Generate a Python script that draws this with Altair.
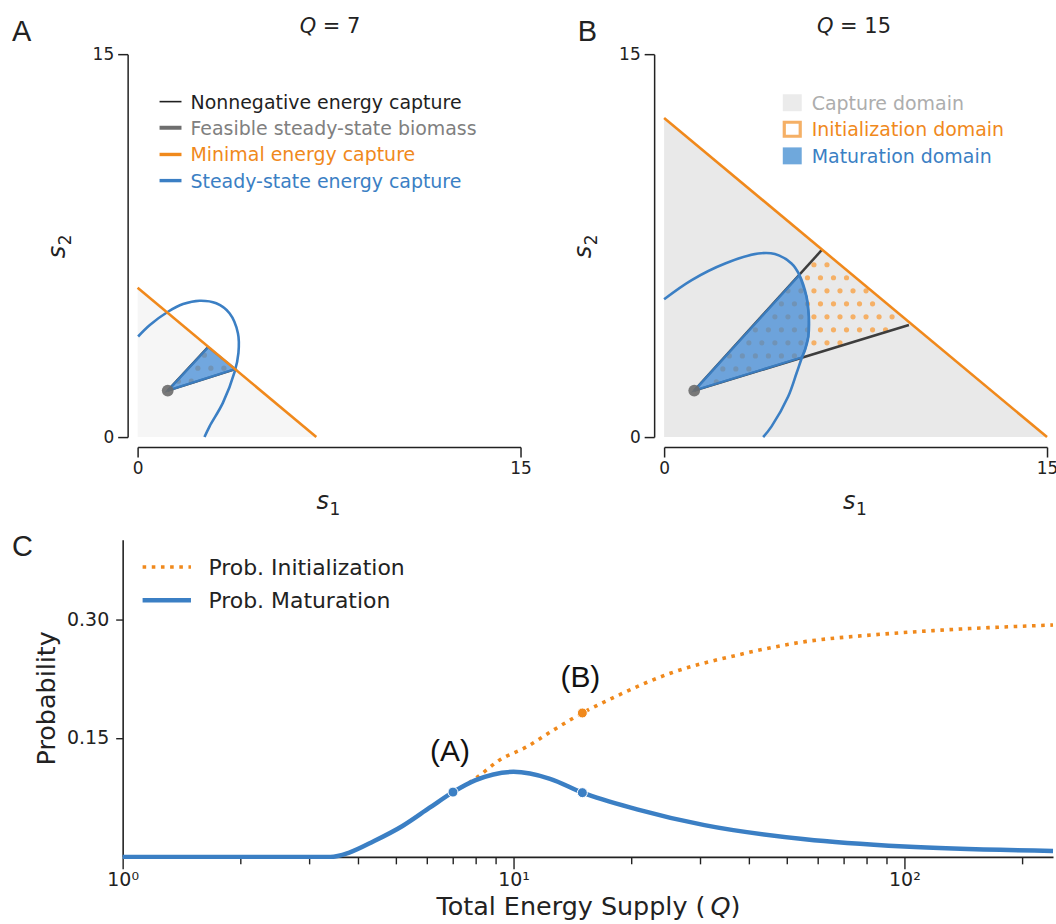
import numpy as np
import pandas as pd
import altair as alt

# ------------------------------------------------------------------
# Values
# ------------------------------------------------------------------
# Panels A and B: state space (s1, s2), both axes 0..15
S_DOMAIN = [0, 15]
S_TICKS = [0, 15]
BIOMASS_POINT = [1.18, 1.82]            # feasible steady-state biomass point

# Panel A  (Q = 7)
A_MINIMAL_S1 = [0.0, 7.0]               # minimal energy capture line
A_MINIMAL_S2 = [5.85, 0.0]
A_STEADY_S1 = [0.02, 0.48, 1.19, 1.78, 2.43, 3.08, 3.60, 3.93, 3.95, 3.80, 3.34, 2.82, 2.62]
A_STEADY_S2 = [3.94, 4.39, 4.91, 5.21, 5.34, 5.24, 4.85, 4.07, 3.30, 2.55, 1.34, 0.42, 0.00]
A_RAY_UPPER = [2.76, 3.52]              # nonnegative-capture rays end on the minimal line
A_RAY_LOWER = [3.83, 2.66]

# Panel B  (Q = 15)
B_MINIMAL_S1 = [0.0, 15.0]
B_MINIMAL_S2 = [12.5, 0.0]
B_STEADY_S1 = [0.0, 1.08, 2.39, 3.69, 4.34, 4.99, 5.30, 5.58, 5.67, 5.65, 5.52, 5.40, 5.19, 4.86, 4.21, 3.88]
B_STEADY_S2 = [5.40, 6.15, 6.80, 7.19, 7.17, 6.80, 6.35, 5.50, 4.72, 3.94, 3.42, 3.12, 2.51, 1.59, 0.42, 0.00]
B_RAY_UPPER = [6.17, 7.32]
B_RAY_LOWER = [9.59, 4.39]
B_MATURATION_ARC = (6, 12)              # steady-state arc points bounding the maturation domain

# Panel C: probabilities vs total energy supply Q (log axis)
Q_MATURATION = [1.0, 3.4, 3.8, 4.4, 5.2, 6.1, 7.0, 8.0, 10.0, 12.4, 15.0, 20.7, 30.8, 55.7, 100.0, 240.0]
P_MATURATION = [0.0, 0.0, 0.0055, 0.020, 0.039, 0.062, 0.0817, 0.0968, 0.1073, 0.0985, 0.081,
                0.060, 0.040, 0.0222, 0.013, 0.0075]
Q_INITIALIZATION = [7.0, 8.0, 9.2, 10.8, 12.7, 15.0, 17.9, 25.3, 37.7, 55.7, 83.0, 124.0, 240.0]
P_INITIALIZATION = [0.0817, 0.099, 0.122, 0.1387, 0.1605, 0.1815, 0.2003, 0.232, 0.255, 0.2715,
                    0.280, 0.286, 0.2925]
MARK_Q_MAT = [7.0, 15.0]
MARK_P_MAT = [0.0817, 0.081]
MARK_Q_INIT = [15.0]
MARK_P_INIT = [0.1815]
C_X_DOMAIN = [1, 240]
C_Y_DOMAIN = [0, 0.4]
C_X_TICKS = [1, 2, 3, 4, 5, 6, 7, 8, 9, 10, 20, 30, 40, 50, 60, 70, 80, 90, 100, 200]
C_Y_TICKS = [0.15, 0.30]

# ------------------------------------------------------------------
# Styles
# ------------------------------------------------------------------
FONT = "DejaVu Sans"
HEAD_FONT = "Liberation Sans"
INK = "#222222"
ORANGE = "#f0891c"
ORANGE_LIGHT = "#f5b066"
BLUE = "#3b7fc4"
BLUE_FILL = "#3d88d6"
RAY = "#3d3d3d"
POINT_GRAY = "#6b6b6b"

PANEL = 384          # side of the square A / B plot areas
C_W, C_H = 933, 318
HATCH_STEP = 0.51    # dot hatch spacing (about 13 px)

ONE = pd.DataFrame({"k": [0]})


def txt(text, x, y, size, color=INK, font=FONT, align="left", baseline="alphabetic",
        angle=None, italic=False):
    kw = dict(font=font, fontSize=size, color=color, align=align, baseline=baseline)
    if italic:
        kw["fontStyle"] = "italic"
    if angle is not None:
        kw["angle"] = angle
    return alt.Chart(ONE).mark_text(**kw).encode(
        x=alt.value(x), y=alt.value(y), text=alt.value(text))


def hline(x1, x2, y, color, width, dash=None):
    kw = dict(color=color, strokeWidth=width)
    if dash:
        kw["strokeDash"] = dash
    return alt.Chart(ONE).mark_rule(**kw).encode(
        x=alt.value(x1), x2=alt.value(x2), y=alt.value(y))


def anchor(x, y):
    """Invisible layout anchor (white hairline) fixing the extent of a panel."""
    return hline(x + 0.25, x + 0.75, y + 0.25, "white", 0.5)


def box(x1, x2, y1, y2, fill, stroke=None, sw=0):
    kw = dict(fill=fill, opacity=1)
    if stroke:
        kw.update(stroke=stroke, strokeWidth=sw)
    return alt.Chart(ONE).mark_rect(**kw).encode(
        x=alt.value(x1), x2=alt.value(x2), y=alt.value(y1), y2=alt.value(y2))


def ordered(s1, s2):
    return pd.DataFrame({"s1": s1, "s2": s2, "i": list(range(len(s1)))})


def hatch_dots(tri, anchor_pt, step=HATCH_STEP, margin=0.05):
    """Dot hatch texture clipped to a triangle (pattern only, not data)."""
    tri = np.asarray(tri, dtype=float)

    def edge(px, py, a, b):
        return ((b[0] - a[0]) * (py - a[1]) - (b[1] - a[1]) * (px - a[0])) / np.hypot(*(b - a))

    sign = np.sign(edge(tri[2][0], tri[2][1], tri[0], tri[1]))
    xs, ys = [], []
    kmin = int(np.floor((tri[:, 1].min() - anchor_pt[1]) / step)) - 1
    kmax = int(np.ceil((tri[:, 1].max() - anchor_pt[1]) / step)) + 1
    jmin = int(np.floor((tri[:, 0].min() - anchor_pt[0]) / step)) - 2
    jmax = int(np.ceil((tri[:, 0].max() - anchor_pt[0]) / step)) + 2
    for k in range(kmin, kmax + 1):
        y = anchor_pt[1] + k * step
        off = step / 2 if k % 2 else 0.0
        for j in range(jmin, jmax + 1):
            x = anchor_pt[0] + off + j * step
            if all(sign * edge(x, y, tri[p], tri[q]) > margin for p, q in ((0, 1), (1, 2), (2, 0))):
                xs.append(x)
                ys.append(y)
    return pd.DataFrame({"s1": xs, "s2": ys})


def s_axis():
    return alt.Axis(values=S_TICKS, title=None, grid=False, offset=10, tickSize=10, tickWidth=1.5,
                    tickColor=INK, domainColor=INK, domainWidth=1.5, labelFont=FONT,
                    labelFontSize=17, labelColor=INK, labelPadding=4, labelFlush=False)


def panel(q_text, minimal_s1, minimal_s2, steady_s1, steady_s2, ray_upper, ray_lower,
          mat_s1, mat_s2, capture_fill, hatch_anchor, letter, letter_x, q_x):
    scale = alt.Scale(domain=S_DOMAIN, nice=False, zero=False)
    X = alt.X("s1:Q", scale=scale, axis=s_axis())
    Y = alt.Y("s2:Q", scale=scale, axis=s_axis())
    P = BIOMASS_POINT

    capture = alt.Chart(ordered(minimal_s1, minimal_s2)).mark_area(
        color=capture_fill, opacity=1).encode(x=X, y=Y, y2=alt.datum(0))
    hatch = alt.Chart(hatch_dots([P, ray_upper, ray_lower], hatch_anchor)).mark_circle(
        color=ORANGE_LIGHT, size=27, opacity=1).encode(x=X, y=Y)
    rays_df = pd.DataFrame({
        "ray": ["upper", "upper", "lower", "lower"], "i": [0, 1, 0, 1],
        "s1": [P[0], ray_upper[0], P[0], ray_lower[0]],
        "s2": [P[1], ray_upper[1], P[1], ray_lower[1]]})
    rays = alt.Chart(rays_df).mark_line(color=RAY, strokeWidth=2.5).encode(
        x=X, y=Y, detail="ray:N", order="i:Q")
    maturation = alt.Chart(ordered(mat_s1, mat_s2)).mark_line(
        interpolate="linear-closed", fill=BLUE_FILL, fillOpacity=0.72, stroke=BLUE,
        strokeWidth=2.2, strokeOpacity=0.9).encode(x=X, y=Y, order="i:Q")
    steady = alt.Chart(ordered(steady_s1, steady_s2)).mark_line(
        color=BLUE, strokeWidth=2.6, interpolate="catmull-rom").encode(x=X, y=Y, order="i:Q")
    minimal = alt.Chart(ordered(minimal_s1, minimal_s2)).mark_line(
        color=ORANGE, strokeWidth=2.6).encode(x=X, y=Y, order="i:Q")
    point = alt.Chart(pd.DataFrame({"s1": [P[0]], "s2": [P[1]]})).mark_circle(
        color=POINT_GRAY, size=140, opacity=0.9).encode(x=X, y=Y)

    layers = [capture, hatch, rays, maturation, steady, minimal, point,
              txt(letter, letter_x, -13.5, 29, font=HEAD_FONT),
              txt("Q", q_x, -21.5, 21, italic=True),
              txt("= " + q_text, q_x + 23.2, -21.5, 21),
              # axis titles s_1 (below) and s_2 (left, rotated), math-style subscripts
              txt("s", 179.5, 456, 24, italic=True),
              txt("1", 192.5, 462, 17),
              txt("s", -73, 204.6, 24, angle=270, italic=True),
              txt("2", -67, 191.6, 17, angle=270)]
    return layers


# ---------------- Panel A ----------------
tri_A_s1 = [BIOMASS_POINT[0], A_RAY_UPPER[0], A_RAY_LOWER[0]]
tri_A_s2 = [BIOMASS_POINT[1], A_RAY_UPPER[1], A_RAY_LOWER[1]]
layers_A = panel("7", A_MINIMAL_S1, A_MINIMAL_S2, A_STEADY_S1, A_STEADY_S2, A_RAY_UPPER,
                 A_RAY_LOWER, tri_A_s1, tri_A_s2, "#f6f6f6", (2.36, 2.70), "A", -126, 162.5)
legend_A_rows = [("Nonnegative energy capture", "#1f1f1f", 1.6, "#1f1f1f"),
                 ("Feasible steady-state biomass", "#6e6e6e", 4.0, "#808080"),
                 ("Minimal energy capture", ORANGE, 3.4, ORANGE),
                 ("Steady-state energy capture", BLUE, 3.4, BLUE)]
for (label, lc, lw, tc), ry in zip(legend_A_rows, [47.6, 73.8, 100.6, 126.8]):
    layers_A.append(hline(22, 44, ry, lc, lw))
    layers_A.append(txt(label, 53, ry + 1, 19, color=tc, baseline="middle"))
layers_A.append(anchor(-138, -53))      # page top-left corner
layers_A.append(anchor(0, 469.5))       # bottom extent of the top row
chart_A = alt.layer(*layers_A).properties(width=PANEL, height=PANEL)

# ---------------- Panel B ----------------
lo, hi = B_MATURATION_ARC
mat_B_s1 = [BIOMASS_POINT[0]] + B_STEADY_S1[lo:hi]
mat_B_s2 = [BIOMASS_POINT[1]] + B_STEADY_S2[lo:hi]
layers_B = panel("15", B_MINIMAL_S1, B_MINIMAL_S2, B_STEADY_S1, B_STEADY_S2, B_RAY_UPPER,
                 B_RAY_LOWER, mat_B_s1, mat_B_s2, "#e9e9e9", (5.87, 5.73), "B", -86.7, 153.3)
layers_B += [
    box(119, 138, 40.2, 57.2, "#ebebeb"),
    txt("Capture domain", 148, 49.7, 19, color="#adadad", baseline="middle"),
    box(120.5, 136.5, 68.3, 82.3, "white", ORANGE_LIGHT, 3.2),
    txt("Initialization domain", 148, 76.3, 19, color=ORANGE, baseline="middle"),
    box(119, 138, 93.5, 110.5, "#6fa8dc"),
    txt("Maturation domain", 148, 103, 19, color=BLUE, baseline="middle"),
]
chart_B = alt.layer(*layers_B).properties(width=PANEL, height=PANEL)

# ---------------- Panel C ----------------
cx_axis = alt.Axis(
    values=C_X_TICKS, title=None, grid=False, labelOverlap=False, labelFlush=False,
    labelExpr="datum.value == 1 ? '10\u2070' : datum.value == 10 ? '10\u00b9' : "
              "datum.value == 100 ? '10\u00b2' : ''",
    tickSize={"condition": {"test": "indexof([1, 10, 100], datum.value) >= 0", "value": 12},
              "value": 7},
    tickWidth=1.4, tickColor=INK, domainColor=INK, domainWidth=1.6,
    labelFont=FONT, labelFontSize=19, labelColor=INK, labelPadding=2)
cy_axis = alt.Axis(values=C_Y_TICKS, format=".2f", title=None, grid=False, tickSize=7,
                   tickWidth=1.4, tickColor=INK, domainColor=INK, domainWidth=1.6,
                   labelFont=FONT, labelFontSize=19, labelColor=INK, labelPadding=7)
QX = alt.X("Q:Q", scale=alt.Scale(type="log", domain=C_X_DOMAIN, nice=False), axis=cx_axis)
PY = alt.Y("P:Q", scale=alt.Scale(domain=C_Y_DOMAIN, nice=False, zero=False), axis=cy_axis)

init_df = pd.DataFrame({"Q": Q_INITIALIZATION, "P": P_INITIALIZATION})
mat_df = pd.DataFrame({"Q": Q_MATURATION, "P": P_MATURATION})
init_line = alt.Chart(init_df).mark_line(
    color=ORANGE, strokeWidth=3.6, strokeDash=[3.6, 5.6], interpolate="monotone").encode(x=QX, y=PY)
mat_line = alt.Chart(mat_df).mark_line(
    color=BLUE, strokeWidth=4.5, interpolate="monotone").encode(x=QX, y=PY)
mat_marks = alt.Chart(pd.DataFrame({"Q": MARK_Q_MAT, "P": MARK_P_MAT})).mark_circle(
    color=BLUE, size=100, opacity=1, stroke="white", strokeWidth=1).encode(x=QX, y=PY)
init_marks = alt.Chart(pd.DataFrame({"Q": MARK_Q_INIT, "P": MARK_P_INIT})).mark_circle(
    color=ORANGE, size=100, opacity=1, stroke="white", strokeWidth=1).encode(x=QX, y=PY)
ann_A = alt.Chart(pd.DataFrame({"Q": [MARK_Q_MAT[0]], "P": [MARK_P_MAT[0]]})).mark_text(
    text="(A)", font=HEAD_FONT, fontSize=30, color="#111111", align="center",
    baseline="alphabetic", dx=-3, dy=-31).encode(x=QX, y=PY)
ann_B = alt.Chart(pd.DataFrame({"Q": MARK_Q_INIT, "P": MARK_P_INIT})).mark_text(
    text="(B)", font=HEAD_FONT, fontSize=30, color="#111111", align="center",
    baseline="alphabetic", dx=-2, dy=-26).encode(x=QX, y=PY)

layers_C = [init_line, mat_line, mat_marks, init_marks, ann_A, ann_B,
            hline(20, 68.5, 27.3, ORANGE, 3.6, dash=[3.6, 5.6]),
            txt("Prob. Initialization", 86, 28.5, 22, baseline="middle"),
            hline(20, 68.5, 60.6, BLUE, 4.5),
            txt("Prob. Maturation", 86, 61.8, 22, baseline="middle"),
            txt("C", -111, 16.6, 29, font=HEAD_FONT),
            txt("Probability", -67.6, C_H / 2, 25.5, align="center", angle=270),
            txt("Total Energy Supply (", 314.7, 376.6, 25.5),
            txt("Q", 589.5, 376.6, 25.5, italic=True),
            txt(")", 609.6, 376.6, 25.5),
            anchor(-123, -16.4)]            # top / left extent of panel C
chart_C = alt.layer(*layers_C).properties(width=C_W, height=C_H)


def spacer(w):
    return alt.Chart(ONE).mark_text(text="").encode(
        x=alt.value(0), y=alt.value(0)).properties(width=w, height=1)


top = alt.hconcat(spacer(15), chart_A, spacer(144), chart_B, spacing=0, bounds="flush")
chart = alt.vconcat(top, chart_C, spacing=0).properties(
    padding={"left": 0, "top": 0, "right": -6, "bottom": 0}).configure_view(stroke=None)

chart.save("out.html", embed_options={"renderer": "svg", "actions": False})
